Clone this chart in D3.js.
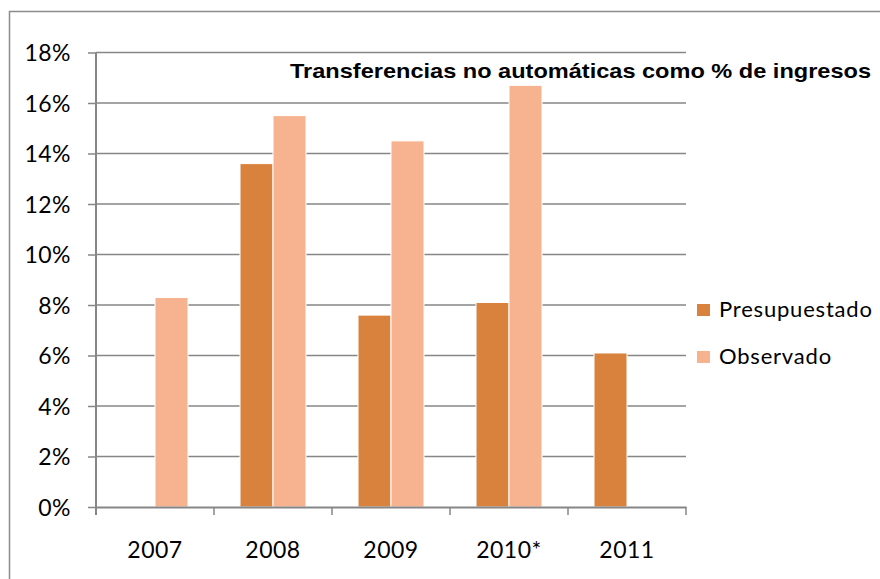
<!DOCTYPE html>
<html>
<head>
<meta charset="utf-8">
<script src="https://cdn.jsdelivr.net/npm/d3@7"></script>
<style>
  body { margin: 0; background: #fff; }
  .tick text { font-family: Lato, "Open Sans", sans-serif; }
</style>
</head>
<body>
<svg width="880" height="579"></svg>
<script>
var years = ["2007", "2008", "2009", "2010*", "2011"];
var seriesNames = ["Presupuestado", "Observado"];
var presupuestado = [null, 13.6, 7.6, 8.1, 6.1];
var observado = [8.3, 15.5, 14.5, 16.7, null];
var yTicks = [0, 2, 4, 6, 8, 10, 12, 14, 16, 18];
var colors = ["#D8823E", "#F7B38F"];
var title = "Transferencias no automáticas como % de ingresos";

var svg = d3.select("svg");
var margin = { top: 52.5, left: 96, right: 194, bottom: 72 };
var width = 880 - margin.left - margin.right;
var height = 579 - margin.top - margin.bottom;

// outer chart border (runs off the right/bottom edge)
svg.append("rect")
    .attr("x", 9.5).attr("y", 11.5)
    .attr("width", 900).attr("height", 600)
    .attr("fill", "none")
    .attr("stroke", "#8c8c8c")
    .attr("stroke-width", 1.5);

var g = svg.append("g")
    .attr("transform", "translate(" + margin.left + "," + margin.top + ")");

var x = d3.scaleBand().domain(years).range([0, width]).padding(0);
var y = d3.scaleLinear().domain([0, 18]).range([height, 0]);
var xs = d3.scaleBand().domain(seriesNames).range([-33, 33]).padding(0);

// gridlines
g.selectAll(".grid")
    .data(yTicks.slice(1))
    .enter().append("line")
    .attr("class", "grid")
    .attr("x1", 0).attr("x2", width)
    .attr("y1", function (d) { return y(d); })
    .attr("y2", function (d) { return y(d); })
    .attr("stroke", "#868686")
    .attr("stroke-width", 1.5);

// bars
var data = [];
years.forEach(function (yr, i) {
    data.push({ year: yr, s: seriesNames[0], v: presupuestado[i], c: colors[0] });
    data.push({ year: yr, s: seriesNames[1], v: observado[i], c: colors[1] });
});

g.selectAll(".bar")
    .data(data.filter(function (d) { return d.v != null; }))
    .enter().append("rect")
    .attr("class", "bar")
    .attr("x", function (d) { return x(d.year) + x.bandwidth() / 2 + xs(d.s); })
    .attr("y", function (d) { return y(d.v); })
    .attr("width", xs.bandwidth())
    .attr("height", function (d) { return height - y(d.v); })
    .attr("fill", function (d) { return d.c; })
    .attr("stroke", "#fff")
    .attr("stroke-width", 1);

// y axis
var yAxis = g.append("g")
    .call(d3.axisLeft(y).tickValues(yTicks).tickSize(8).tickPadding(17)
        .tickFormat(function (d) { return d + "%"; }));
yAxis.select(".domain").remove();
yAxis.append("line")
    .attr("x1", 0).attr("x2", 0).attr("y1", 0).attr("y2", height + 8)
    .attr("stroke", "#868686").attr("stroke-width", 2);
yAxis.selectAll(".tick line").attr("stroke", "#868686").attr("stroke-width", 1.5);
yAxis.selectAll(".tick text")
    .attr("font-size", 23).attr("fill", "#000").attr("dy", "0.35em")
    .attr("letter-spacing", 0.5);

// x axis
var xAxis = g.append("g")
    .attr("transform", "translate(0," + height + ")")
    .call(d3.axisBottom(x).tickSize(0).tickPadding(35));
xAxis.select(".domain")
    .attr("stroke", "#868686").attr("stroke-width", 2);
xAxis.selectAll(".tick text").attr("font-size", 23).attr("fill", "#000")
    .attr("letter-spacing", 0.5);
xAxis.selectAll(".sep")
    .data(years.concat(["end"]))
    .enter().append("line")
    .attr("x1", function (d, i) { return i * x.step(); })
    .attr("x2", function (d, i) { return i * x.step(); })
    .attr("y1", 0).attr("y2", 8)
    .attr("stroke", "#868686").attr("stroke-width", 1.5);

// title
svg.append("text")
    .attr("x", 290).attr("y", 78)
    .attr("font-family", "Liberation Sans, Arial, sans-serif")
    .attr("font-weight", "bold")
    .attr("font-size", 21)
    .attr("textLength", 581)
    .attr("lengthAdjust", "spacingAndGlyphs")
    .text(title);

// legend
var legend = svg.append("g")
    .attr("transform", "translate(697,304)");
var li = legend.selectAll("g")
    .data(seriesNames)
    .enter().append("g")
    .attr("transform", function (d, i) { return "translate(0," + i * 47 + ")"; });
li.append("rect")
    .attr("width", 13).attr("height", 12)
    .attr("fill", function (d, i) { return colors[i]; });
li.append("text")
    .attr("x", 22).attr("y", 13)
    .attr("font-family", "Lato, sans-serif")
    .attr("font-size", 22)
    .attr("letter-spacing", 0.8)
    .text(function (d) { return d; });
</script>
</body>
</html>
